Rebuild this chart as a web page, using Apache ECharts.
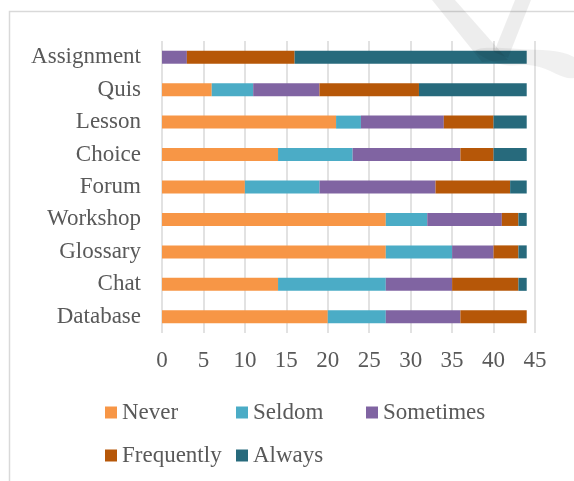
<!DOCTYPE html>
<html>
<head>
<meta charset="utf-8">
<script src="https://cdn.jsdelivr.net/npm/echarts@6/dist/echarts.min.js"></script>
<style>
  html, body { margin: 0; padding: 0; background: #ffffff; }
  #chart { width: 574px; height: 481px; }
</style>
</head>
<body>
<div id="chart"></div>
<script>
// Moodle activities and how often each one is used (number of respondents)
const activities = ['Assignment', 'Quis', 'Lesson', 'Choice', 'Forum', 'Workshop', 'Glossary', 'Chat', 'Database'];
const never      = [0, 6, 21, 14, 10, 27, 27, 14, 20];
const seldom     = [0, 5, 3, 9, 9, 5, 8, 13, 7];
const sometimes  = [3, 8, 10, 13, 14, 9, 5, 8, 9];
const frequently = [13, 12, 6, 4, 9, 2, 3, 8, 8];
const always     = [28, 13, 4, 4, 2, 1, 1, 1, 0];
const xTicks = [0, 5, 10, 15, 20, 25, 30, 35, 40, 45];

const seriesNames  = ['Never', 'Seldom', 'Sometimes', 'Frequently', 'Always'];
const seriesValues = [never, seldom, sometimes, frequently, always];
const colors = ['#F79646', '#4BACC6', '#8064A2', '#B65708', '#276A7C'];

const FONT = '"Liberation Serif", "Times New Roman", serif';
const TEXT = '#595959';

const chart = echarts.init(document.getElementById('chart'), null, { renderer: 'canvas' });

// one legend block per entry, laid out in fixed columns
const legendSlots = [
  { left: 105, top: 401 },
  { left: 236, top: 401 },
  { left: 366, top: 401 },
  { left: 105, top: 444 },
  { left: 236, top: 444 }
];
const legends = seriesNames.map((name, i) => ({
  data: [name],
  left: legendSlots[i].left,
  top: legendSlots[i].top,
  padding: 0,
  itemWidth: 12,
  itemHeight: 12,
  itemGap: 5,
  icon: 'rect',
  selectedMode: false,
  textStyle: { fontFamily: FONT, fontSize: 23, color: TEXT }
}));

chart.setOption({
  animation: false,
  backgroundColor: '#ffffff',
  color: colors,
  legend: legends,
  grid: { left: 162, right: 39, top: 41, bottom: 148, containLabel: false },
  xAxis: {
    type: 'value',
    min: 0,
    max: 45,
    interval: 5,
    axisLine: { show: false },
    axisTick: { show: false },
    axisLabel: {
      fontFamily: FONT, fontSize: 23, color: TEXT, margin: 16,
      formatter: v => (xTicks.includes(v) ? String(v) : '')
    },
    splitLine: { show: true, lineStyle: { color: '#d9d9d9', width: 1.5 } }
  },
  yAxis: {
    type: 'category',
    data: activities,
    inverse: true,
    axisLine: { show: false },
    axisTick: { show: false },
    axisLabel: { fontFamily: FONT, fontSize: 23, color: TEXT, margin: 21 }
  },
  series: seriesNames.map((name, i) => ({
    name: name,
    type: 'bar',
    stack: 'total',
    barWidth: 13,
    data: seriesValues[i],
    itemStyle: { color: colors[i] }
  })),
  graphic: [
    // outer chart frame
    {
      type: 'rect', silent: true, z: 0,
      shape: { x: 9.5, y: 11.5, width: 600, height: 500 },
      style: { fill: 'none', stroke: '#d9d9d9', lineWidth: 1.5 }
    },
    // faint logo mark in the upper right corner
    {
      type: 'polygon', silent: true, z: 100,
      shape: { points: [[432, 0], [455, 0], [508, 60], [482, 62]] },
      style: { fill: 'rgba(0,0,0,0.07)' }
    },
    {
      type: 'polygon', silent: true, z: 100,
      shape: { points: [[515, 0], [531, 0], [508, 58], [494, 52]] },
      style: { fill: 'rgba(0,0,0,0.07)' }
    },
    {
      type: 'polygon', silent: true, z: 100,
      shape: {
        smooth: 0.4,
        points: [[476, 50], [520, 49], [574, 57], [574, 78], [535, 66], [500, 64]]
      },
      style: { fill: 'rgba(0,0,0,0.06)' }
    }
  ]
});
</script>
</body>
</html>
